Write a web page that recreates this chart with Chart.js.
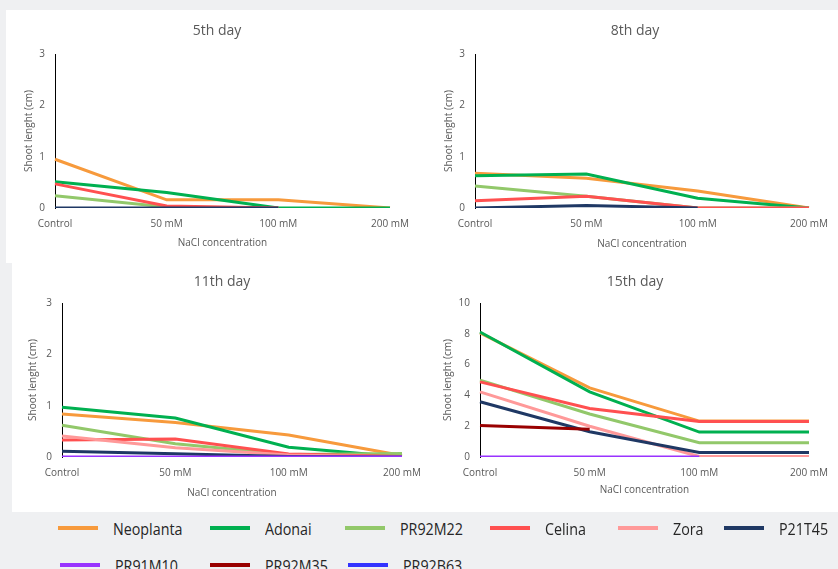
<!DOCTYPE html>
<html>
<head>
<meta charset="utf-8">
<script src="https://cdn.jsdelivr.net/npm/chart.js"></script>
<style>
  body {
    margin: 0;
    width: 838px;
    height: 569px;
    background: #eff0f2;
    position: relative;
    overflow: hidden;
    font-family: "Open Sans", sans-serif;
  }
  .panel { position: absolute; background: #fff; }
  canvas { position: absolute; }
  .title {
    position: absolute;
    transform: translate(-50%, -50%);
    font-size: 14px;
    color: #595959;
    white-space: nowrap;
  }
  .legend-item {
    position: absolute;
    display: flex;
    align-items: center;
    height: 24px;
    transform: translateY(-50%);
    font-family: "Open Sans", sans-serif;
    font-size: 17px;
    color: #262626;
    white-space: nowrap;
  }
  .legend-item span.swatch {
    display: inline-block;
    width: 40px;
    height: 4px;
    margin-right: 15px;
  }
  .legend-item span.name {
    display: inline-block;
    transform: scaleX(0.84);
    transform-origin: left center;
  }
</style>
</head>
<body>
<div class="panel" style="left:6px; top:10px; width:414px; height:253px;"></div>
<canvas id="c1" width="413" height="253" style="left:6px; top:10px;"></canvas>
<div class="panel" style="left:420px; top:10px; width:418px; height:253px;"></div>
<canvas id="c2" width="418" height="253" style="left:420px; top:10px;"></canvas>
<div class="panel" style="left:12px; top:263px; width:408px; height:249px;"></div>
<canvas id="c3" width="430" height="249" style="left:12px; top:263px;"></canvas>
<div class="panel" style="left:420px; top:263px; width:418px; height:249px;"></div>
<canvas id="c4" width="418" height="249" style="left:420px; top:263px;"></canvas>

<div class="title" style="left:217px; top:29px;">5th day</div>
<div class="title" style="left:635px; top:29px;">8th day</div>
<div class="title" style="left:222px; top:280px;">11th day</div>
<div class="title" style="left:635px; top:280px;">15th day</div>

<div id="legend"></div>

<script>
const concentrations = ['Control', '50 mM', '100 mM', '200 mM'];
const varieties = ['Neoplanta', 'Adonai', 'PR92M22', 'Celina', 'Zora', 'P21T45', 'PR91M10', 'PR92M35', 'PR92B63'];
const lineColors = ['#f79a3c', '#00b050', '#92c86a', '#ff5050', '#ff9999', '#1f3864', '#9933ff', '#990000', '#3333ff'];

// shoot length (cm), one row per variety in the order above, null = not drawn
const day5 = [
  [0.95, 0.16, 0.16, 0],
  [0.51, 0.30, 0, 0],
  [0.24, 0.02, 0, null],
  [0.47, 0.04, 0, null],
  [null, null, null, null],
  [0, 0, 0, null],
  [null, null, null, null],
  [null, null, null, null],
  [null, null, null, null]
];
const day8 = [
  [0.675, 0.58, 0.33, 0],
  [0.63, 0.66, 0.19, 0],
  [0.43, 0.23, 0, 0],
  [0.14, 0.23, 0, 0],
  [null, null, null, null],
  [0, 0.05, 0, null],
  [null, null, null, null],
  [null, null, null, null],
  [null, null, null, null]
];
const day11 = [
  [0.84, 0.67, 0.43, 0.03],
  [0.97, 0.76, 0.19, 0],
  [0.62, 0.26, 0.05, 0.07],
  [0.33, 0.35, 0.06, 0.01],
  [0.41, 0.18, 0.04, 0],
  [0.11, 0.065, 0.01, 0],
  [0, 0, 0, 0],
  [null, null, null, null],
  [null, null, null, null]
];
const day15 = [
  [8.06, 4.49, 2.33, 2.33],
  [8.12, 4.23, 1.62, 1.62],
  [4.99, 2.79, 0.93, 0.93],
  [4.88, 3.15, 2.31, 2.31],
  [4.23, 2.0, 0.03, 0.03],
  [3.59, 1.64, 0.30, 0.30],
  [0, 0, 0, null],
  [2.05, 1.81, null, null],
  [null, null, null, null]
];
const smallTicks = [0, 1, 2, 3];
const bigTicks = [0, 2, 4, 6, 8, 10];

Chart.defaults.font.family = '"Open Sans", sans-serif';
Chart.defaults.color = '#595959';

function drawPanel(id, rows, ticks, g) {
  new Chart(document.getElementById(id), {
    type: 'line',
    data: {
      labels: concentrations,
      datasets: varieties.map((name, i) => ({
        label: name,
        data: rows[i],
        borderColor: lineColors[i],
        backgroundColor: lineColors[i],
        borderWidth: 3,
        pointRadius: 0,
        tension: 0,
        order: varieties.length - i // later series on top, like the original
      }))
    },
    options: {
      responsive: false,
      animation: false,
      layout: { padding: { left: 0, right: g.right, top: g.top, bottom: 0 } },
      plugins: {
        legend: { display: false },
        tooltip: { enabled: false },
        title: { display: false }
      },
      scales: {
        x: {
          grid: { display: false, drawTicks: false },
          border: { display: false },
          ticks: { font: { size: 10 }, padding: 10, maxRotation: 0, autoSkip: false },
          title: {
            display: true, text: 'NaCl concentration',
            font: { size: 10 }, padding: { top: 0, bottom: g.xTitle }
          },
          afterFit: s => { s.height = g.xHeight; }
        },
        y: {
          min: ticks[0],
          max: ticks[ticks.length - 1],
          ticks: { stepSize: ticks[1] - ticks[0], font: { size: 10 }, padding: 10 },
          grid: { display: false, drawTicks: false },
          border: { display: true, color: '#000', width: 1 },
          title: {
            display: true, text: 'Shoot lenght (cm)',
            font: { size: 10 }, padding: { top: g.yTitle, bottom: 0 }
          },
          afterFit: s => { s.width = g.yWidth; }
        }
      }
    }
  });
}

drawPanel('c1', day5, smallTicks, { right: 24, top: 44, yWidth: 49, xHeight: 55, yTitle: 17, xTitle: 14 });
drawPanel('c2', day8, smallTicks, { right: 23, top: 44, yWidth: 55, xHeight: 55, yTitle: 23, xTitle: 13 });
drawPanel('c3', day11, smallTicks, { right: 40, top: 40, yWidth: 50, xHeight: 55, yTitle: 15, xTitle: 13 });
drawPanel('c4', day15, bigTicks, { right: 24, top: 40, yWidth: 60, xHeight: 55, yTitle: 22, xTitle: 16 });

// legend laid out like the original two rows
const legendSlots = [[58, 528], [210, 528], [345, 528], [490, 528], [618, 528], [724, 528], [60, 565], [210, 565], [348, 565]];
const legend = document.getElementById('legend');
varieties.forEach((name, i) => {
  const item = document.createElement('div');
  item.className = 'legend-item';
  item.style.left = legendSlots[i][0] + 'px';
  item.style.top = legendSlots[i][1] + 'px';
  const sw = document.createElement('span');
  sw.className = 'swatch';
  sw.style.background = lineColors[i];
  const label = document.createElement('span');
  label.className = 'name';
  label.textContent = name;
  item.appendChild(sw);
  item.appendChild(label);
  legend.appendChild(item);
});
</script>
</body>
</html>
